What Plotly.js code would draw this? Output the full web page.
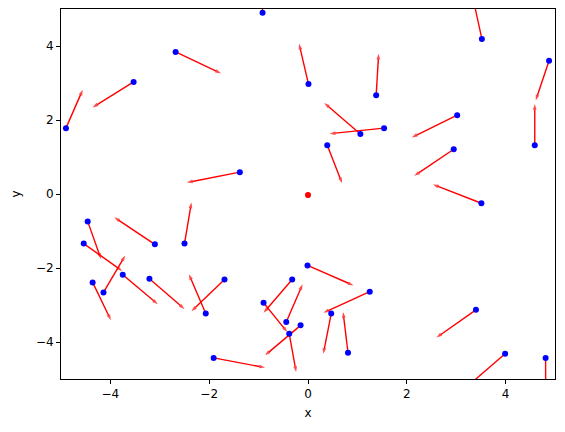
<!DOCTYPE html>
<html>
<head>
<meta charset="utf-8">
<script src="https://cdn.plot.ly/plotly-3.0.1.min.js"></script>
<style>html,body{margin:0;padding:0;background:#fff;}</style>
</head>
<body>
<div id="chart" style="width:565px;height:432px;"></div>
<script>
// Point positions
var px = [-4.90,-3.53,-2.68,-0.92,0.01,-1.38,3.52,1.38,4.88,4.59,3.02,1.54,1.06,0.39,2.95,3.51,
          -4.46,-4.54,-3.10,-2.50,-4.36,-4.14,-3.75,-3.21,-2.07,-1.69,-1.91,-0.90,-0.32,-0.44,-0.15,-0.38,
          -0.01,1.25,0.47,0.81,3.40,3.99,4.81];
var py = [1.78,3.03,3.84,4.90,2.97,0.59,4.19,2.67,3.60,1.32,2.13,1.78,1.62,1.32,1.21,-0.25,
          -0.74,-1.34,-1.36,-1.34,-2.39,-2.66,-2.18,-2.29,-3.23,-2.31,-4.43,-2.94,-2.31,-3.46,-3.55,-3.78,
          -1.93,-2.64,-3.23,-4.29,-3.13,-4.32,-4.43];
// Vector components (arrow tip = point + vector)
var u = [0.34,-0.83,0.92,-0.03,-0.19,-1.07,-0.18,0.05,-0.27,0.00,-0.92,-1.10,-0.73,0.30,-0.80,-0.98,
         0.27,0.78,-0.82,0.14,0.37,0.44,0.71,0.71,-0.34,-0.67,1.04,0.48,-0.58,0.33,-0.72,0.14,
         0.93,-0.94,-0.16,-0.10,-0.80,-0.80,0.00];
var v = [1.04,-0.69,-0.58,0.80,1.09,-0.28,1.10,1.12,-1.07,1.11,-0.60,-0.15,0.84,-1.03,-0.72,0.51,
         -1.02,-0.74,0.73,1.11,-1.02,1.00,-0.80,-0.82,1.06,-0.86,-0.26,-0.79,-0.90,1.02,-0.81,-1.03,
         -0.54,-0.57,-1.09,1.10,-0.75,-0.92,-1.10];
// Very short arrow at the origin (no point drawn there)
var ox = [0.0], oy = [-0.03], ou = [0.0], ov = [0.08];

var traces = [];
function addArrow(x0, y0, du, dv, size) {
  traces.push({
    type: 'scatter', mode: 'lines+markers',
    x: [x0, x0 + du], y: [y0, y0 + dv],
    line: {color: '#ff0000', width: 1.4},
    marker: {symbol: ['circle', 'arrow'], size: [0, size], angleref: 'previous',
             color: '#ff0000', line: {width: 0}},
    hoverinfo: 'skip', showlegend: false, cliponaxis: true
  });
}
for (var i = 0; i < px.length; i++) addArrow(px[i], py[i], u[i], v[i], 6);
for (var j = 0; j < ox.length; j++) addArrow(ox[j], oy[j], ou[j], ov[j], 6);
// body of the short origin arrow
traces.push({
  type: 'scatter', mode: 'markers', x: ox, y: oy,
  marker: {symbol: 'circle', size: 6, color: '#ff0000', line: {width: 0}},
  hoverinfo: 'skip', showlegend: false, cliponaxis: true
});

traces.push({
  type: 'scatter', mode: 'markers', x: px, y: py,
  marker: {color: '#0000ff', size: 6, line: {width: 0}},
  showlegend: false, hoverinfo: 'skip', cliponaxis: true
});

var axisCommon = {
  range: [-5, 5], dtick: 2, tick0: 0,
  showgrid: false, zeroline: false,
  showline: true, mirror: true, linecolor: '#000', linewidth: 1,
  ticks: 'outside', ticklen: 4, tickwidth: 1, tickcolor: '#000',
  tickfont: {family: 'DejaVu Sans', size: 12, color: '#000'}
};
var layout = {
  width: 565, height: 432,
  margin: {l: 61, r: 10, t: 9, b: 53},
  paper_bgcolor: '#fff', plot_bgcolor: '#fff',
  xaxis: Object.assign({}, axisCommon, {title: {text: 'x', font: {family: 'DejaVu Sans', size: 12, color: '#000'}, standoff: 8}}),
  yaxis: Object.assign({}, axisCommon, {title: {text: 'y', font: {family: 'DejaVu Sans', size: 12, color: '#000'}, standoff: 12}}),
  showlegend: false
};
Plotly.newPlot('chart', traces, layout, {staticPlot: true});
</script>
</body>
</html>
